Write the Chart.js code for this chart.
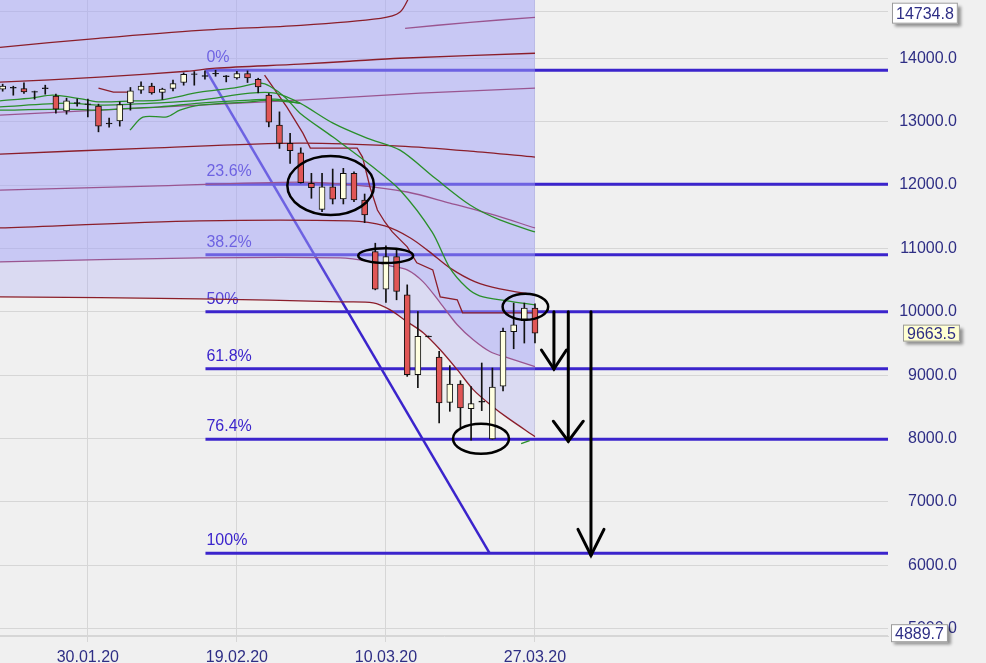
<!DOCTYPE html>
<html><head><meta charset="utf-8">
<script src="https://cdn.jsdelivr.net/npm/chart.js@4.4.1/dist/chart.umd.min.js"></script>
<style>html,body{margin:0;padding:0;background:#f0f0f0;}canvas{display:block;}</style>
</head><body>
<canvas id="c" width="986" height="663"></canvas>
<script>
// ---------------- DATA ----------------
const dateTickIdx = [8, 22, 36, 50];
const dateLabels = ['30.01.20', '19.02.20', '10.03.20', '27.03.20'];
const yTickValues = [4889.7, 5000, 6000, 7000, 8000, 9000, 10000, 11000, 12000, 13000, 14000, 14734.8];
const priceBoxValues = [14734.8, 9663.5, 4889.7];

const opens  = [13512,13528,13523,13476,13532,13402,13170,13300,13282,13244,12976,13013,13296,13496,13559,13460,13523,13617,13756,13727,13764,13722,13690,13759,13669,13417,12945,12657,12509,12027,11617,11973,11780,12184,11764,10950,10357,10871,10268,9008,9618,9287,8572,8861,8472,8590,7995,8827,9685,9858,10058];
const highs  = [13591,13559,13611,13482,13575,13433,13370,13359,13354,13276,13055,13312,13539,13627,13606,13528,13654,13769,13790,13800,13811,13727,13795,13800,13685,13444,13154,12814,12587,12184,12184,12252,12263,12209,11858,11082,11039,10976,10425,10005,9618,9375,9150,8913,8819,9192,9113,9743,10137,10137,10126];
const lows   = [13480,13417,13444,13354,13433,13134,13118,13244,13076,12839,12913,12929,13181,13444,13433,13350,13485,13575,13575,13669,13716,13627,13669,13617,13454,12918,12578,12342,12030,11791,11580,11701,11701,11737,11406,10346,10147,10189,8981,8803,9604,8247,8430,8169,7973,8441,7990,8751,9417,9507,9507];
const closes = [13559,13540,13469,13464,13520,13197,13328,13288,13270,12929,12962,13271,13485,13559,13454,13512,13602,13748,13744,13715,13752,13710,13759,13690,13548,12992,12657,12540,12036,11957,11973,11775,12184,11764,11528,10357,10871,10320,9008,9611,9604,8562,8861,8483,8551,8574,8814,9690,9795,10058,9663.5];

const fibLevels = [13811, 12012, 10899, 10000, 9101, 7988, 6189];
const fibLabels = ['0%', '23.6%', '38.2%', '50%', '61.8%', '76.4%', '100%'];
const fibStartIdx = 19.05;
const fibEndIdx = 83.2;
const diagIdx = [19.1, 45.75];
const diagPrice = [13811, 6189];

const band1X = [-0.25, 9, 18.5, 28, 35.5, 37.3, 38.3];
const band1Y = [14173, 14315, 14441, 14520, 14630, 14724, 15000];
const band2X = [37.8, 43.9, 50];
const band2Y = [14472, 14567, 14646];
const band3X = [-0.25, 9.1, 17.3, 20, 27.9, 32.6, 37.3, 50];
const band3Y = [13622, 13701, 13795, 13843, 13906, 13953, 14000, 14079];
const band5X = [-0.25, 9.1, 27.9, 39.2, 50];
const band5Y = [13102, 13181, 13339, 13449, 13528];
const band6X = [-0.25, 13.8, 27.9, 37.3, 43.9, 50];
const band6Y = [12488, 12583, 12661, 12614, 12535, 12441];
const band7X = [-0.25, 13.8, 27.9, 33.1, 38, 42, 45.8, 50];
const band7Y = [11921, 11984, 12047, 11999, 11890, 11716, 11543, 11323];
const band8X = [-0.25, 18.5, 32.6, 35.9, 38.3, 40.1, 42, 44.4, 46.7, 50];
const band8Y = [11323, 11433, 11433, 11354, 11165, 10945, 10693, 10472, 10362, 10268];
const envX = [-0.25, 18.5, 31.7, 34.8, 36.4, 38.0, 39.5, 41.1, 42.7, 44.2, 45.8, 47.4, 50];
const envUpperY = [10787, 10850, 10850, 10787, 10724, 10661, 10472, 10142, 9795, 9559, 9370, 9276, 9134];
const envLowerY = [10236, 10205, 10157, 10142, 10031, 9842, 9670, 9402, 9087, 8772, 8535, 8330, 8031];

const stopAX = [9, 10.4, 11.8];
const stopAY = [13528, 13465, 13465];
const stopBX = [24.6, 26.7, 28.2, 28.9, 33.3, 33.8, 34.5, 35.2, 35.9, 36.6, 38.0, 38.9, 40.4, 41.1, 42.7, 43.2, 50];
const stopBY = [13732, 13228, 12819, 12583, 12583, 12441, 11969, 11606, 11417, 11260, 11024, 10772, 10661, 10236, 10189, 9984, 9984];

const maFastX = [-0.25, 2.85, 4.72, 7.54, 9.14, 12.24, 14.77, 18.53, 21.63, 24.17, 25.1, 26.52, 27.93, 31.03, 34.78, 37.32, 40.33, 42.0, 43.6, 44.8, 47.4, 50];
const maFastY = [13328, 13375, 13417, 13354, 13312, 13328, 13339, 13465, 13528, 13606, 13559, 13386, 13134, 12756, 12283, 11921, 11260, 10693, 10378, 10252, 10173, 10110];
const maMidX = [-0.25, 6.04, 9.14, 14.77, 18.53, 23.23, 25.6, 27.93, 31.03, 34.22, 37.32, 40.6, 43.9, 46.7, 50];
const maMidY = [13233, 13291, 13260, 13296, 13339, 13449, 13449, 13291, 12976, 12740, 12551, 12110, 11685, 11449, 11260];
const maSlowX = [-0.25, 6.04, 9.14, 12.24, 14.77, 18.53, 23.23, 25.6, 27.93];
const maSlowY = [13181, 13197, 13181, 13213, 13233, 13291, 13339, 13354, 13291];
const maLongX = [11.96, 13.18, 15.43, 16.65, 18.53, 23.23, 25.1, 27.93];
const maLongY = [12866, 13071, 13076, 13181, 13260, 13312, 13339, 13291];
const maTailX = [48.7, 49.5];
const maTailY = [7921, 7968];

// annotations (data units)
const ellipseCx = [30.81, 35.98, 49.1, 44.93];
const ellipseCy = [11992, 10886, 10078, 7997];
const ellipseRx = [4.07, 2.58, 2.14, 2.63];
const ellipseRy = [465, 118, 205, 236];
const arrowX = [51.78, 53.13, 55.26];
const arrowFrom = [10000, 10000, 10000];
const arrowTo = [9098, 7958, 6157];

// ---------------- STYLE ----------------
const FONT = '"Liberation Sans", Arial, sans-serif';
const TEXT = '#2e2e85';
const FIB = '#3b24cc';
const MAROON = '#8b1e2a';
const PURPLE = '#9a5590';
const GREEN = '#2a8f2a';
const RED = '#e05656';
const CREAM = '#ffffe0';
const GRID = '#d6d6d6';
const arrowHeads = [{w: 12.5, h: 19}, {w: 15, h: 20}, {w: 13, h: 26}];
const boxStyles = [
  {left: 892, dy: 1.5, h: 21, fill: '#ffffff'},
  {left: 903, dy: 0, h: 17, fill: '#ffffd2'},
  {left: 891, dy: -2.5, h: 18, fill: '#ffffff'}
];

const pts = (xs, ys) => xs.map((x, k) => ({x: x, y: ys[k]}));
const lineDs = (xs, ys, color, order, extra) => Object.assign({
  type: 'line', data: pts(xs, ys), borderColor: color, borderWidth: 1.3,
  pointRadius: 0, tension: 0.3, fill: false, order: order
}, extra || {});

const datasets = [];
fibLevels.forEach(lv => datasets.push(lineDs([fibStartIdx, fibEndIdx], [lv, lv], FIB, 100, {borderWidth: 3, tension: 0})));
datasets.push(lineDs(diagIdx, diagPrice, FIB, 100, {borderWidth: 2.5, tension: 0}));
const upperIndex = datasets.length;
datasets.push(lineDs(envX, envUpperY, PURPLE, 80, {fill: 'end', backgroundColor: 'rgba(160,160,247,0.5)'}));
datasets.push(lineDs(envX, envLowerY, MAROON, 81, {fill: upperIndex, backgroundColor: 'rgba(160,160,247,0.27)'}));
datasets.push(lineDs(band1X, band1Y, MAROON, 60));
datasets.push(lineDs(band2X, band2Y, PURPLE, 60));
datasets.push(lineDs(band3X, band3Y, MAROON, 60));
datasets.push(lineDs(band5X, band5Y, PURPLE, 60));
datasets.push(lineDs(band6X, band6Y, MAROON, 60));
datasets.push(lineDs(band7X, band7Y, PURPLE, 60));
datasets.push(lineDs(band8X, band8Y, MAROON, 60));
datasets.push(lineDs(stopAX, stopAY, MAROON, 55, {tension: 0}));
datasets.push(lineDs(stopBX, stopBY, MAROON, 55, {tension: 0}));
datasets.push(lineDs(maFastX, maFastY, GREEN, 50));
datasets.push(lineDs(maMidX, maMidY, GREEN, 50));
datasets.push(lineDs(maSlowX, maSlowY, GREEN, 50));
datasets.push(lineDs(maLongX, maLongY, GREEN, 50));
datasets.push(lineDs(maTailX, maTailY, GREEN, 50, {tension: 0}));
const candleIdx = opens.map((_, i) => i);
datasets.push({
  type: 'bar', data: candleIdx.map(i => ({x: i, y: [lows[i], highs[i]]})),
  backgroundColor: '#111', barThickness: 1, grouped: false, order: 20
});
datasets.push({
  type: 'bar', data: candleIdx.map(i => ({x: i, y: [opens[i], closes[i]]})),
  backgroundColor: candleIdx.map(i => Math.abs(closes[i] - opens[i]) < 20 ? '#111' : (closes[i] >= opens[i] ? CREAM : RED)),
  borderColor: '#111', borderWidth: 1, borderSkipped: false,
  barThickness: 6, grouped: false, order: 10
});

// ---------------- PLUGINS ----------------
const bgPlugin = {
  id: 'bg',
  beforeDraw(chart) {
    const c = chart.ctx; c.save(); c.fillStyle = '#f0f0f0';
    c.fillRect(0, 0, chart.width, chart.height); c.restore();
  }
};
const fibLabelPlugin = {
  id: 'fibLabels',
  beforeDatasetsDraw(chart) {
    const {ctx, scales: {x, y}} = chart;
    ctx.save();
    ctx.font = '16px ' + FONT;
    ctx.fillStyle = FIB;
    ctx.textBaseline = 'alphabetic';
    ctx.textAlign = 'left';
    fibLevels.forEach((lv, k) => {
      ctx.fillText(fibLabels[k], x.getPixelForValue(fibStartIdx) + 1, y.getPixelForValue(lv) - 8);
    });
    ctx.restore();
  }
};
const annotPlugin = {
  id: 'annot',
  afterDatasetsDraw(chart) {
    const {ctx, scales: {x, y}} = chart;
    ctx.save();
    ctx.strokeStyle = '#000';
    ctx.lineWidth = 2.5;
    ellipseCx.forEach((cx, k) => {
      const px = x.getPixelForValue(cx), py = y.getPixelForValue(ellipseCy[k]);
      const rx = Math.abs(x.getPixelForValue(cx + ellipseRx[k]) - px);
      const ry = Math.abs(y.getPixelForValue(ellipseCy[k] + ellipseRy[k]) - py);
      ctx.beginPath(); ctx.ellipse(px, py, rx, ry, 0, 0, Math.PI * 2); ctx.stroke();
    });
    ctx.lineWidth = 3;
    ctx.lineCap = 'round';
    arrowX.forEach((ax, k) => {
      const px = x.getPixelForValue(ax);
      const y0 = y.getPixelForValue(arrowFrom[k]), y1 = y.getPixelForValue(arrowTo[k]);
      const hd = arrowHeads[k];
      ctx.beginPath(); ctx.moveTo(px, y0); ctx.lineTo(px, y1); ctx.stroke();
      ctx.beginPath(); ctx.moveTo(px - hd.w, y1 - hd.h); ctx.lineTo(px, y1); ctx.lineTo(px + hd.w, y1 - hd.h); ctx.stroke();
    });
    ctx.restore();
  }
};
const boxPlugin = {
  id: 'boxes',
  afterDraw(chart) {
    const {ctx, scales: {y}} = chart;
    ctx.save();
    ctx.font = '16px ' + FONT;
    priceBoxValues.forEach((v, k) => {
      const st = boxStyles[k];
      const txt = v.toFixed(1);
      const tw = ctx.measureText(txt).width;
      const w = tw + 8;
      const cy = y.getPixelForValue(v) + st.dy;
      const top = Math.max(2, cy - st.h / 2);
      const mid = top + st.h / 2;
      ctx.save();
      ctx.shadowColor = 'rgba(0,0,0,0.4)'; ctx.shadowBlur = 3; ctx.shadowOffsetX = 3; ctx.shadowOffsetY = 3;
      ctx.fillStyle = st.fill; ctx.fillRect(st.left, top, w, st.h);
      ctx.restore();
      ctx.strokeStyle = '#9a9a9a'; ctx.lineWidth = 1;
      ctx.strokeRect(st.left + 0.5, top + 0.5, w - 1, st.h - 1);
      ctx.fillStyle = TEXT; ctx.textAlign = 'center'; ctx.textBaseline = 'middle';
      ctx.fillText(txt, st.left + w / 2, mid + 1);
    });
    ctx.restore();
  }
};

Chart.defaults.font.family = FONT;
Chart.defaults.font.size = 16;
Chart.defaults.color = TEXT;

new Chart(document.getElementById('c'), {
  type: 'line',
  data: {datasets: datasets},
  options: {
    responsive: false, animation: false, devicePixelRatio: 1,
    layout: {padding: {left: 0, top: 0, bottom: 0, right: 29}},
    plugins: {legend: {display: false}, tooltip: {enabled: false}},
    scales: {
      x: {
        type: 'linear', min: -0.25, max: 83.16, bounds: 'data', offset: false,
        afterBuildTicks: s => { s.ticks = dateTickIdx.map(v => ({value: v})); },
        afterFit: s => { s.height = 27; s.paddingLeft = 0; s.paddingRight = 0; s.paddingTop = 0; s.paddingBottom = 0; },
        grid: {color: GRID, offset: false, drawTicks: true, tickLength: 6, tickColor: GRID},
        border: {display: true, color: GRID},
        ticks: {autoSkip: false, maxRotation: 0, padding: 6, color: TEXT,
          callback: v => { const k = dateTickIdx.indexOf(v); return k >= 0 ? dateLabels[k] : ''; }}
      },
      y: {
        type: 'linear', position: 'right', min: 4885, max: 14919, bounds: 'data',
        afterBuildTicks: s => { s.ticks = yTickValues.map(v => ({value: v})); },
        afterFit: s => { s.width = 69; s.paddingTop = 0; s.paddingBottom = 0; s.paddingLeft = 0; s.paddingRight = 0; },
        grid: {color: GRID, drawTicks: false},
        border: {display: false},
        ticks: {crossAlign: 'far', padding: 11, color: TEXT,
          callback: v => (v % 1000 === 0 ? v.toFixed(1) : '')}
      }
    }
  },
  plugins: [bgPlugin, fibLabelPlugin, annotPlugin, boxPlugin]
});
</script>
</body></html>
